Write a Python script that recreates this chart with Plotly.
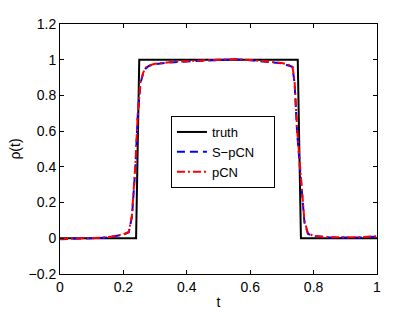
import plotly.graph_objects as go

# Truth (step function)
t_truth = [0, 0.24, 0.25, 0.75, 0.76, 1.0]
truth = [0, 0, 1, 1, 0, 0]

# Estimates
t_est = [0, 0.05, 0.1, 0.15, 0.2, 0.217, 0.227, 0.238, 0.245, 0.254, 0.262, 0.27,
         0.28, 0.3, 0.35, 0.4, 0.45, 0.5, 0.55, 0.6, 0.65, 0.7, 0.733, 0.74,
         0.748, 0.756, 0.764, 0.771, 0.782, 0.8, 0.85, 0.9, 0.95, 1.0]
s_pcn = [-0.005, -0.004, 0.0, 0.005, 0.02, 0.034, 0.12, 0.40, 0.68, 0.87, 0.92, 0.95,
         0.965, 0.975, 0.985, 0.99, 0.995, 1.0, 1.002, 0.997, 0.99, 0.98, 0.96, 0.87,
         0.59, 0.40, 0.22, 0.09, 0.025, 0.012, 0.005, 0.003, 0.005, 0.01]
pcn = [-0.004, -0.003, 0.001, 0.006, 0.022, 0.036, 0.13, 0.42, 0.69, 0.875, 0.925, 0.955,
       0.968, 0.977, 0.987, 0.992, 0.996, 1.003, 1.004, 0.998, 0.99, 0.982, 0.965, 0.88,
       0.61, 0.42, 0.24, 0.10, 0.028, 0.014, 0.006, 0.004, 0.006, 0.012]

x_ticks = [0, 0.2, 0.4, 0.6, 0.8, 1.0]
x_labels = ["0", "0.2", "0.4", "0.6", "0.8", "1"]
y_ticks = [-0.2, 0, 0.2, 0.4, 0.6, 0.8, 1.0, 1.2]
y_labels = ["\u22120.2", "0", "0.2", "0.4", "0.6", "0.8", "1", "1.2"]

PAD = "\u00a0" * 4

fig = go.Figure()
fig.add_trace(go.Scatter(x=t_truth, y=truth, mode="lines", name="truth" + PAD,
                         line=dict(color="black", width=2)))
fig.add_trace(go.Scatter(x=t_est, y=s_pcn, mode="lines", name="S\u2212pCN" + PAD,
                         line=dict(color="#0000ff", width=2, dash="8px,5px")))
fig.add_trace(go.Scatter(x=t_est, y=pcn, mode="lines", name="pCN" + PAD,
                         line=dict(color="#ff0000", width=2, dash="8px,3px,2px,3px")))

font = dict(family="Liberation Sans, Arial, sans-serif", size=14, color="black")
axis_common = dict(showline=True, linecolor="black", linewidth=1, mirror="ticks",
                   ticks="inside", ticklen=4, tickcolor="black", showgrid=False,
                   zeroline=False, tickfont=font, automargin=False)

fig.update_layout(
    width=415, height=312,
    margin=dict(l=60, r=38, t=24, b=38),
    paper_bgcolor="white", plot_bgcolor="white",
    font=font,
    xaxis=dict(range=[0, 1], tickvals=x_ticks, ticktext=x_labels,
               title=dict(text="t", font=font, standoff=3), **axis_common),
    yaxis=dict(range=[-0.2, 1.2], tickvals=y_ticks, ticktext=y_labels,
               title=dict(text="\u03c1(t)", font=font, standoff=4), **axis_common),
    legend=dict(x=0.35, y=0.632, xanchor="left", yanchor="top",
                bgcolor="white", bordercolor="black", borderwidth=1,
                font=dict(family="Liberation Sans, Arial, sans-serif", size=13),
                tracegroupgap=0, itemwidth=30),
    showlegend=True,
)

fig.write_html("out.html", config={"displayModeBar": False},
               post_script="document.body.style.margin='0';document.body.style.overflow='hidden';")
